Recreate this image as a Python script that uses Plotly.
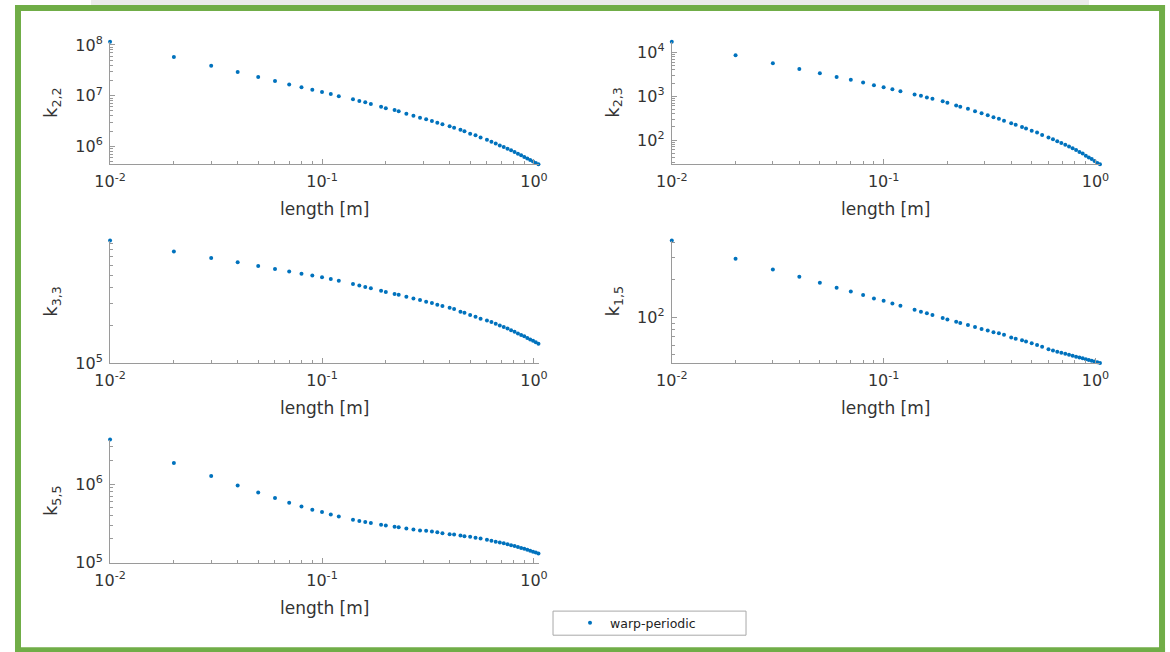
import plotly.graph_objects as go

# ---------------- data ----------------
length_m = [0.01, 0.02, 0.03, 0.04, 0.05, 0.06, 0.07, 0.08, 0.09, 0.10, 0.11, 0.12,
            0.14, 0.15, 0.16, 0.17, 0.19, 0.20, 0.22, 0.23, 0.25, 0.27, 0.29, 0.31,
            0.33, 0.35, 0.37, 0.40, 0.42, 0.45, 0.47, 0.50, 0.53, 0.56, 0.60, 0.63,
            0.66, 0.69, 0.72, 0.75, 0.78, 0.81, 0.84, 0.87, 0.90, 0.93, 0.96, 0.99,
            1.02, 1.05]

k22 = [1.15e8, 5.8e7, 3.9e7, 2.93e7, 2.33e7, 1.95e7, 1.67e7, 1.46e7, 1.31e7, 1.18e7, 1.08e7, 9.7e6,
       8.5e6, 7.86e6, 7.41e6, 6.86e6, 6.07e6, 5.64e6, 5.22e6, 4.92e6, 4.41e6, 4.03e6, 3.68e6, 3.43e6,
       3.17e6, 2.93e6, 2.73e6, 2.49e6, 2.34e6, 2.13e6, 1.99e6, 1.78e6, 1.66e6, 1.51e6, 1.36e6, 1.24e6,
       1.14e6, 1.05e6, 9.75e5, 9.0e5, 8.4e5, 7.8e5, 7.2e5, 6.7e5, 6.2e5, 5.8e5, 5.4e5, 5.06e5,
       4.74e5, 4.47e5]

k23 = [1.75e4, 8.6e3, 5.66e3, 4.22e3, 3.35e3, 2.77e3, 2.37e3, 2.05e3, 1.78e3, 1.6e3, 1.44e3, 1.30e3,
       1094, 1021, 934, 873, 769, 706, 614, 573, 516, 455, 409, 368,
       332, 305, 274, 242, 222, 198, 184, 163, 148, 131, 114, 104,
       94, 86, 78, 71, 65, 59, 53, 49, 44, 40, 37, 33,
       30, 28]

k33 = [9.46e5, 7.73e5, 6.88e5, 6.36e5, 5.94e5, 5.62e5, 5.35e5, 5.15e5, 4.97e5, 4.82e5, 4.67e5, 4.53e5,
       4.26e5, 4.14e5, 4.04e5, 3.94e5, 3.76e5, 3.68e5, 3.55e5, 3.49e5, 3.37e5, 3.27e5, 3.17e5, 3.08e5,
       3.0e5, 2.91e5, 2.84e5, 2.75e5, 2.69e5, 2.56e5, 2.51e5, 2.41e5, 2.33e5, 2.25e5, 2.18e5, 2.12e5,
       2.05e5, 1.99e5, 1.93e5, 1.88e5, 1.82e5, 1.77e5, 1.72e5, 1.67e5, 1.63e5, 1.58e5, 1.54e5, 1.50e5,
       1.46e5, 1.42e5]

k15 = [413, 295, 242, 212, 190, 173, 161, 151, 142, 136, 129, 124,
       115, 111, 108, 104.5, 98.9, 96.4, 92.5, 90.2, 86.9, 83.8, 80.7, 78.7,
       75.9, 74.5, 72.7, 69.2, 67.6, 65.5, 64.0, 62.0, 60.1, 58.3, 55.5, 54.2,
       53.2, 52.1, 51.2, 50.2, 49.3, 48.5, 47.7, 47.0, 46.3, 45.6, 45.0, 44.4,
       43.7, 43.2]

k55 = [3.69e6, 1.86e6, 1.27e6, 9.6e5, 7.83e5, 6.64e5, 5.78e5, 5.19e5, 4.71e5, 4.40e5, 4.10e5, 3.87e5,
       3.51e5, 3.38e5, 3.28e5, 3.19e5, 3.03e5, 2.97e5, 2.86e5, 2.83e5, 2.72e5, 2.64e5, 2.56e5, 2.54e5,
       2.49e5, 2.44e5, 2.37e5, 2.30e5, 2.28e5, 2.21e5, 2.17e5, 2.13e5, 2.08e5, 2.03e5, 1.95e5, 1.90e5,
       1.85e5, 1.81e5, 1.76e5, 1.72e5, 1.67e5, 1.63e5, 1.58e5, 1.54e5, 1.50e5, 1.46e5, 1.42e5, 1.38e5,
       1.35e5, 1.31e5]

panel_series = [k22, k23, k33, k15, k55]
panel_labels = ["k<sub>2,2</sub>", "k<sub>2,3</sub>", "k<sub>3,3</sub>", "k<sub>1,5</sub>", "k<sub>5,5</sub>"]
panel_yticks = [[1e6, 1e7, 1e8], [1e2, 1e3, 1e4], [1e5], [1e2], [1e5, 1e6]]
panel_ytext = [["10<sup>6</sup>", "10<sup>7</sup>", "10<sup>8</sup>"],
               ["10<sup>2</sup>", "10<sup>3</sup>", "10<sup>4</sup>"],
               ["10<sup>5</sup>"], ["10<sup>2</sup>"],
               ["10<sup>5</sup>", "10<sup>6</sup>"]]
panel_yrange = [[5.6500, 8.0610], [1.4470, 4.2433], [5.0, 5.9762], [1.6353, 2.6162], [5.0, 6.5673]]
x_ticks = [0.01, 0.1, 1.0]
x_ticktext = ["10<sup>-2</sup>", "10<sup>-1</sup>", "10<sup>0</sup>"]
x_title = "length [m]"
legend_name = "warp-periodic"

# ---------------- geometry ----------------
W, H = 1170, 652
# the captured picture shows the page slightly shrunk and offset; targets below are
# given in picture pixels and converted to figure-paper fractions.
SX, OX = 0.9786, 15.0
SY, OY = 0.969, 9.0


def px(xp):
    return (xp - OX) / SX / W


def py(yp):
    return 1 - (yp - OY) / SY / H


col_px = [(109, 537.5), (670.7, 1099)]
row_px = [(42.7, 164.7), (240.7, 362.7), (439, 561.7)]
positions = [(0, 0), (0, 1), (1, 0), (1, 1), (2, 0)]

AX_COL = "#9a9a9a"
TXT_COL = "#333333"
FONT = "DejaVu Sans"
BLUE = "#0072BD"
GREEN = "#70ad47"


def minor_vals(lo_exp, hi_exp):
    v = []
    for e in range(lo_exp, hi_exp + 1):
        for m in range(2, 10):
            v.append(m * 10.0 ** e)
    return v


fig = go.Figure()
annotations = []

for i, (series, (r, c)) in enumerate(zip(panel_series, positions)):
    n = i + 1
    xa = "x" if n == 1 else f"x{n}"
    ya = "y" if n == 1 else f"y{n}"
    fig.add_trace(go.Scatter(
        x=length_m, y=series, mode="markers", xaxis=xa, yaxis=ya,
        marker=dict(color=BLUE, size=4.0, line=dict(width=0)),
        name=legend_name, showlegend=(n == 1), cliponaxis=False,
    ))
    x0, x1 = col_px[c]
    yt, yb = row_px[r]
    common = dict(showline=True, linecolor=AX_COL, linewidth=1, mirror=False,
                  showgrid=False, zeroline=False, ticks="inside", ticklen=5,
                  tickcolor=AX_COL, tickwidth=1,
                  tickfont=dict(family=FONT, size=16, color=TXT_COL))
    fig.update_layout(**{
        ("xaxis" if n == 1 else f"xaxis{n}"): dict(
            type="log", domain=[px(x0), px(x1)], anchor=ya, range=[-2.0003, 0.0215],
            tickmode="array", tickvals=x_ticks, ticktext=x_ticktext,
            ticklabelstandoff=3,
            minor=dict(ticks="inside", ticklen=3, tickcolor=AX_COL,
                       tickmode="array", tickvals=minor_vals(-2, -1), showgrid=False),
            **common),
        ("yaxis" if n == 1 else f"yaxis{n}"): dict(
            type="log", domain=[py(yb), py(yt)], anchor=xa, range=panel_yrange[i],
            tickmode="array", tickvals=panel_yticks[i], ticktext=panel_ytext[i],
            ticklabelstandoff=3,
            minor=dict(ticks="inside", ticklen=3, tickcolor=AX_COL,
                       tickmode="array", tickvals=minor_vals(0, 8), showgrid=False),
            **common),
    })
    annotations.append(dict(text=x_title, xref="paper", yref="paper",
                            x=px((x0 + x1) / 2), y=py(yb + 45),
                            xanchor="center", yanchor="middle", showarrow=False,
                            font=dict(family=FONT, size=17, color=TXT_COL)))
    annotations.append(dict(text=panel_labels[i], xref="paper", yref="paper",
                            x=px(x0 - 58), y=py((yt + yb) / 2),
                            xanchor="center", yanchor="middle", textangle=-90,
                            showarrow=False,
                            font=dict(family=FONT, size=18, color=TXT_COL)))

# faint grey strip above the frame, then the green frame as four bands (picture pixels)
shapes = [dict(type="rect", xref="paper", yref="paper",
               x0=px(90), x1=px(1088), y0=py(6), y1=py(0),
               line=dict(width=0), fillcolor="#ebebeb", layer="above")]
frame_bands = [
    (14, 20, 6, 652),      # left
    (14, 1164, 6, 12),     # top
    (1158, 1164, 6, 652),  # right
    (14, 1164, 646, 652),  # bottom
]
shapes += [dict(type="rect", xref="paper", yref="paper",
                x0=px(a), x1=px(b), y0=py(d), y1=py(c),
                line=dict(width=0), fillcolor=GREEN, layer="above")
           for (a, b, c, d) in frame_bands]
# legend frame (picture pixels)
shapes.append(dict(type="rect", xref="paper", yref="paper",
                   x0=px(552), x1=px(745), y0=py(634), y1=py(610),
                   line=dict(color="#a8a8a8", width=1), fillcolor="white", layer="below"))

fig.update_layout(
    width=W, height=H,
    margin=dict(l=0, r=0, t=0, b=0),
    paper_bgcolor="white", plot_bgcolor="white",
    annotations=annotations, shapes=shapes,
    showlegend=True,
    legend=dict(x=px(569), xanchor="left", y=py(622), yanchor="middle",
                orientation="h", borderwidth=0,
                bgcolor="rgba(0,0,0,0)", font=dict(family=FONT, size=12.5, color="#222222"),
                itemsizing="trace"),
)

page_fix = ("document.documentElement.style.margin='0';"
            "document.documentElement.style.padding='0';"
            "document.body.style.margin='0';"
            "document.body.style.padding='0';"
            "document.body.style.overflow='hidden';")

fig.write_html("out.html", post_script=page_fix, config={"displayModeBar": False})
